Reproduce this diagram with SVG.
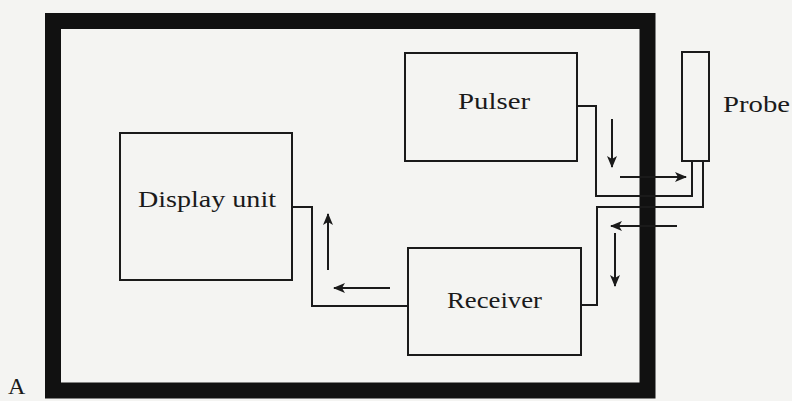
<svg xmlns="http://www.w3.org/2000/svg" width="792" height="401" viewBox="0 0 792 401">
<defs>
<style>
.box{fill:none;stroke:#1a1a1a;stroke-width:2}
.wire{fill:none;stroke:#1a1a1a;stroke-width:2}
.arr{fill:none;stroke:#1a1a1a;stroke-width:2;marker-end:url(#ah)}
text{font-family:"Liberation Serif",serif;font-size:24px;fill:#1a1a1a}
</style>
<marker id="ah" viewBox="0 0 12 10" refX="11" refY="5" markerWidth="6" markerHeight="5" markerUnits="strokeWidth" orient="auto">
<path d="M0,0 L12,5 L0,10 L3,5 Z" fill="#1a1a1a"/>
</marker>
</defs>
<rect width="792" height="401" fill="#f4f4f2"/>
<g id="frame"><rect x="53" y="21" width="594.5" height="369.5" fill="none" stroke="#111" stroke-width="16"/></g>
<g id="pulser"><rect class="box" x="405" y="53" width="172" height="108"/><text x="458" y="109" textLength="72" lengthAdjust="spacingAndGlyphs">Pulser</text></g>
<g id="display"><rect class="box" x="120" y="133" width="172" height="147"/><text x="138" y="207" textLength="138" lengthAdjust="spacingAndGlyphs">Display unit</text></g>
<g id="receiver"><rect class="box" x="408" y="248" width="173" height="107"/><text x="447" y="308" textLength="95" lengthAdjust="spacingAndGlyphs">Receiver</text></g>
<g id="probe"><rect class="box" x="682" y="52" width="27" height="109"/><text x="723" y="112" textLength="67" lengthAdjust="spacingAndGlyphs">Probe</text></g>
<g id="label"><text x="8" y="394" font-size="20">A</text></g>
<g id="connectors">
<path class="wire" d="M577,106 H596 V196 H692 V161"/>
<path class="wire" d="M703,161 V207 H597 V305 H581"/>
<path class="wire" d="M292,207 H312 V306 H408"/>
<line class="arr" x1="612" y1="119" x2="612" y2="167"/>
<line class="arr" x1="620" y1="177" x2="686" y2="177"/>
<line class="arr" x1="677" y1="226" x2="611" y2="226"/>
<line class="arr" x1="615" y1="233" x2="615" y2="286"/>
<line class="arr" x1="328" y1="270" x2="328" y2="214"/>
<line class="arr" x1="390" y1="288" x2="334" y2="288"/>
</g>
</svg>
